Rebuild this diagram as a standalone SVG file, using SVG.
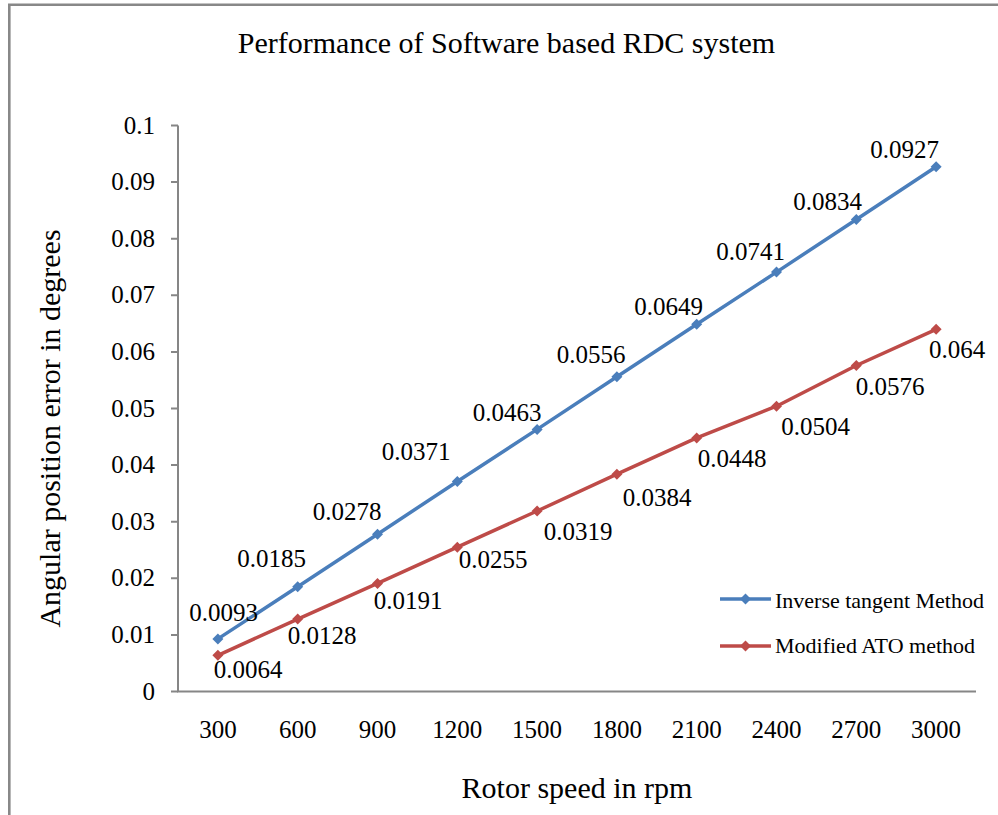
<svg xmlns="http://www.w3.org/2000/svg" width="998" height="815" viewBox="0 0 998 815" font-family="'Liberation Serif', 'Times New Roman', Times, serif">
<style>
text{font-family:'Liberation Serif','Times New Roman',Times,serif;fill:#000}
.t{font-size:30px}
.n{font-size:25px}
.lg{font-size:22px}
.ax{stroke:#868686;stroke-width:2;fill:none}
.blue{stroke:#4A7EBB;stroke-width:3.5;fill:none;stroke-linejoin:round}
.red{stroke:#BE4B48;stroke-width:3.5;fill:none;stroke-linejoin:round}
</style>
<defs>
<marker id="mb" viewBox="-6 -6 12 12" refX="0" refY="0" markerWidth="12" markerHeight="12" markerUnits="userSpaceOnUse"><path d="M0,-5.5L5.5,0L0,5.5L-5.5,0Z" fill="#4A7EBB"/></marker>
<marker id="mr" viewBox="-6 -6 12 12" refX="0" refY="0" markerWidth="12" markerHeight="12" markerUnits="userSpaceOnUse"><path d="M0,-5.5L5.5,0L0,5.5L-5.5,0Z" fill="#BE4B48"/></marker>
</defs>
<rect width="998" height="815" fill="#fff"/>
<path d="M9.3,815V4.7H998" stroke="#888" stroke-width="2.6" fill="none"/>
<g font-family="'Liberation Serif', 'Times New Roman', Times, serif">
<text class="t" x="506.5" y="53" text-anchor="middle">Performance of Software based RDC system</text>
<g id="axes">
<path class="ax" d="M178,125.5V691.5H976"/>
<path class="ax" d="M171,125.5H178M171,182.1H178M171,238.7H178M171,295.3H178M171,351.9H178M171,408.5H178M171,465.1H178M171,521.7H178M171,578.3H178M171,634.9H178M171,691.5H178"/>
<g class="n" text-anchor="end">
<text x="155" y="133.5">0.1</text>
<text x="155" y="190.1">0.09</text>
<text x="155" y="246.7">0.08</text>
<text x="155" y="303.3">0.07</text>
<text x="155" y="359.9">0.06</text>
<text x="155" y="416.5">0.05</text>
<text x="155" y="473.1">0.04</text>
<text x="155" y="529.7">0.03</text>
<text x="155" y="586.3">0.02</text>
<text x="155" y="642.9">0.01</text>
<text x="155" y="699.5">0</text>
</g>
<g class="n" text-anchor="middle">
<text x="217.9" y="738">300</text>
<text x="297.7" y="738">600</text>
<text x="377.5" y="738">900</text>
<text x="457.3" y="738">1200</text>
<text x="537.1" y="738">1500</text>
<text x="616.9" y="738">1800</text>
<text x="696.7" y="738">2100</text>
<text x="776.5" y="738">2400</text>
<text x="856.3" y="738">2700</text>
<text x="936.1" y="738">3000</text>
</g>
<text class="t" x="577" y="798" text-anchor="middle">Rotor speed in rpm</text>
<text class="t" transform="translate(60,428.5) rotate(-90)" text-anchor="middle">Angular position error in degrees</text>
</g>
<g id="connectors">
<polyline id="series-inverse" class="blue" marker-start="url(#mb)" marker-mid="url(#mb)" marker-end="url(#mb)" points="217.9,638.9 297.7,586.8 377.5,534.2 457.3,481.5 537.1,429.4 616.9,376.8 696.7,324.2 776.5,272.1 856.3,219.5 936.1,166.8"/>
<polyline id="series-ato" class="red" marker-start="url(#mr)" marker-mid="url(#mr)" marker-end="url(#mr)" points="217.9,655.3 297.7,619.1 377.5,583.4 457.3,547.2 537.1,511.0 616.9,474.2 696.7,437.9 776.5,406.2 856.3,365.5 936.1,329.3"/>
</g>
<g id="labels-inverse" class="n" text-anchor="middle">
<text x="223.5" y="621">0.0093</text>
<text x="271.5" y="567">0.0185</text>
<text x="347" y="520">0.0278</text>
<text x="416" y="460">0.0371</text>
<text x="507" y="421">0.0463</text>
<text x="591" y="363">0.0556</text>
<text x="668.5" y="315">0.0649</text>
<text x="750.5" y="260">0.0741</text>
<text x="827.5" y="210">0.0834</text>
<text x="904.5" y="158">0.0927</text>
</g>
<g id="labels-ato" class="n" text-anchor="middle">
<text x="248" y="678">0.0064</text>
<text x="322" y="644">0.0128</text>
<text x="408" y="609">0.0191</text>
<text x="493" y="568">0.0255</text>
<text x="578" y="540">0.0319</text>
<text x="657" y="506">0.0384</text>
<text x="732" y="467">0.0448</text>
<text x="815.5" y="435">0.0504</text>
<text x="890" y="395">0.0576</text>
<text x="957" y="358">0.064</text>
</g>
<g id="legend">
<g id="legend-inverse">
<path class="blue" d="M720,599H771"/>
<path d="M745.5,593.5L751,599L745.5,604.5L740,599Z" fill="#4A7EBB"/>
<text class="lg" x="775" y="608">Inverse tangent Method</text>
</g>
<g id="legend-ato">
<path class="red" d="M720,646H771"/>
<path d="M745.5,640.5L751,646L745.5,651.5L740,646Z" fill="#BE4B48"/>
<text class="lg" x="775" y="653">Modified ATO method</text>
</g>
</g>
</g>
</svg>
